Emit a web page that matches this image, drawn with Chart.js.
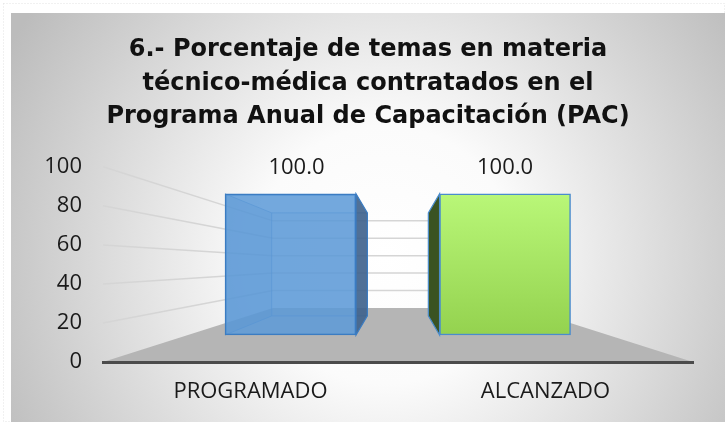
<!DOCTYPE html>
<html>
<head>
<meta charset="utf-8">
<script src="https://cdn.jsdelivr.net/npm/chart.js@4.4.0/dist/chart.umd.min.js"></script>
<style>
  html, body { margin: 0; padding: 0; background: #fff; }
  canvas { display: block; }
</style>
</head>
<body>
<canvas id="myChart" width="725" height="422"></canvas>
<script>
// chart data
const categories = ['PROGRAMADO', 'ALCANZADO'];
const values = [100.0, 100.0];
const yTicks = [0, 20, 40, 60, 80, 100];
const titleLines = [
  '6.- Porcentaje de temas en materia',
  'técnico-médica contratados en el',
  'Programa Anual de Capacitación (PAC)'
];

const FONT = "'Open Sans', 'DejaVu Sans', sans-serif";
const TITLE_FONT = "'DejaVu Sans', 'Open Sans', sans-serif";
const WALL_SX = 0.424, WALL_SY = 0.446, BAR_DEPTH = 0.73;

const frontColors = ['rgba(92,154,215,0.86)', null];
const borderColors = ['#3b7cc2', '#4a8ccc'];
const sideColors = ['rgba(62,98,140,0.9)', '#3a5322'];

var ctx = document.getElementById('myChart');

function vanish(chart) {
  const a = chart.chartArea;
  return { vx: (a.left + a.right) / 2, vy: (a.top + a.bottom) / 2 };
}

function barBox(bar) {
  const p = bar.getProps(['x', 'y', 'base', 'width'], true);
  return { x: p.x, top: p.y, base: p.base, l: p.x - p.width / 2, r: p.x + p.width / 2 };
}

function poly(c, pts) {
  c.beginPath();
  c.moveTo(pts[0][0], pts[0][1]);
  for (let i = 1; i < pts.length; i++) c.lineTo(pts[i][0], pts[i][1]);
  c.closePath();
}

const scene3d = {
  id: 'scene3d',
  beforeDraw(chart) {
    const c = chart.ctx, a = chart.chartArea, W = chart.width, H = chart.height;
    c.save();
    c.fillStyle = '#fff';
    c.fillRect(0, 0, W, H);
    c.strokeStyle = '#e2e2e2';
    c.setLineDash([1, 2]);
    c.strokeRect(3.5, 3.5, W - 4, H - 4);
    c.setLineDash([]);
    const g = c.createRadialGradient(385, 255, 0, 385, 255, 430);
    g.addColorStop(0, '#ffffff');
    g.addColorStop(0.3, '#fbfbfb');
    g.addColorStop(1, '#bcbcbc');
    c.fillStyle = g;
    c.fillRect(11, 13, W - 11, H - 13);

    // floor and walls in perspective
    const y = chart.scales.y;
    const { vx, vy } = vanish(chart);
    const bx = px => vx + WALL_SX * (px - vx);
    const by = py => vy + WALL_SY * (py - vy);
    const y0 = y.getPixelForValue(yTicks[0]);
    c.fillStyle = '#b5b5b5';
    poly(c, [[a.left, y0], [a.right, y0], [bx(a.right), by(y0)], [bx(a.left), by(y0)]]);
    c.fill();
    c.strokeStyle = '#d5d5d5';
    c.lineWidth = 1.5;
    yTicks.slice(1).forEach(v => {
      const p = y.getPixelForValue(v);
      c.beginPath();
      c.moveTo(a.left, p);
      c.lineTo(bx(a.left), by(p));
      c.lineTo(bx(a.right), by(p));
      c.stroke();
    });
    c.restore();
  },
  beforeDatasetsDraw(chart) {
    const c = chart.ctx;
    const { vx, vy } = vanish(chart);
    const B = (px, py) => [vx + BAR_DEPTH * (px - vx), vy + BAR_DEPTH * (py - vy)];
    c.save();
    chart.getDatasetMeta(0).data.forEach((bar, i) => {
      if (!frontColors[i]) return;
      const b = barBox(bar);
      const tl = B(b.l, b.top), bl = B(b.l, b.base), tr = B(b.r, b.top), br = B(b.r, b.base);
      c.fillStyle = 'rgba(40,100,170,0.22)';
      poly(c, [[b.l, b.top], tl, bl, [b.l, b.base]]);
      c.fill();
      c.fillStyle = 'rgba(40,100,170,0.08)';
      poly(c, [tl, tr, br, bl]);
      c.fill();
      c.strokeStyle = 'rgba(50,115,190,0.6)';
      c.lineWidth = 1;
      poly(c, [tl, tr, br, bl]);
      c.stroke();
      c.beginPath();
      c.moveTo(b.l, b.top); c.lineTo(tl[0], tl[1]);
      c.moveTo(b.l, b.base); c.lineTo(bl[0], bl[1]);
      c.stroke();
    });
    c.restore();
  },
  afterDatasetsDraw(chart) {
    const c = chart.ctx;
    const { vx, vy } = vanish(chart);
    const B = (px, py) => [vx + BAR_DEPTH * (px - vx), vy + BAR_DEPTH * (py - vy)];
    c.save();
    chart.getDatasetMeta(0).data.forEach((bar, i) => {
      const b = barBox(bar);
      const edge = b.x < vx ? b.r : b.l;
      c.fillStyle = sideColors[i];
      poly(c, [[edge, b.top], B(edge, b.top), B(edge, b.base), [edge, b.base]]);
      c.fill();
      c.strokeStyle = borderColors[i];
      c.lineWidth = 1.2;
      c.stroke();

      c.fillStyle = '#1a1a1a';
      c.font = '22px ' + FONT;
      c.textAlign = 'center';
      c.textBaseline = 'middle';
      c.fillText(values[i].toFixed(1), b.x + (b.x < vx ? 6 : 0), b.top - 26);
    });
    c.restore();
  }
};

function barFill(context) {
  const i = context.dataIndex;
  if (frontColors[i]) return frontColors[i];
  const chart = context.chart;
  if (!chart.chartArea) return '#a4e060';
  const yb = chart.scales.yb;
  const g = chart.ctx.createLinearGradient(0, yb.getPixelForValue(100), 0, yb.getPixelForValue(0));
  g.addColorStop(0, '#b9f778');
  g.addColorStop(1, '#94d24f');
  return g;
}

var options = {
  responsive: false,
  animation: false,
  layout: { padding: { top: 27, left: 11, right: 0, bottom: 0 } },
  plugins: {
    legend: { display: false },
    tooltip: { enabled: false },
    title: {
      display: true,
      text: titleLines,
      color: '#111',
      font: { family: TITLE_FONT, size: 24, weight: 'bold', lineHeight: 1.4 },
      padding: { top: 6, bottom: 33 }
    }
  },
  scales: {
    x: {
      type: 'category',
      offset: true,
      grid: { display: false, drawTicks: false },
      border: { display: true, color: '#4b4b4b', width: 3 },
      ticks: { color: '#1a1a1a', font: { family: FONT, size: 22 }, padding: 17 },
      afterFit: s => { s.height = 60; }
    },
    xb: {
      type: 'linear',
      display: false,
      offset: false,
      min: -0.874,
      max: 1.876
    },
    y: {
      type: 'linear',
      position: 'left',
      min: yTicks[0],
      max: yTicks[yTicks.length - 1],
      grid: { display: false, drawTicks: false },
      border: { display: false },
      ticks: { stepSize: yTicks[1] - yTicks[0], color: '#1a1a1a', font: { family: FONT, size: 22 }, padding: 21 },
      afterFit: s => { s.width = 92; }
    },
    // empty right gutter so the title centres on the whole panel
    gutter: {
      type: 'linear',
      position: 'right',
      grid: { display: false, drawTicks: false },
      border: { display: false },
      ticks: { display: false },
      afterFit: s => { s.width = 32; }
    },
    yb: {
      type: 'linear',
      display: false,
      min: -19.15,
      max: 119.15
    }
  }
};

var StockChart = new Chart(ctx, {
  type: 'bar',
  data: {
    labels: categories,
    datasets: [{
      data: categories.map((c, i) => ({ x: i, y: values[i] })),
      xAxisID: 'xb',
      yAxisID: 'yb',
      barThickness: 131,
      backgroundColor: barFill,
      borderColor: borderColors,
      borderWidth: 1.5,
      borderSkipped: false
    }]
  },
  options: options,
  plugins: [scene3d]
});
</script>
</body>
</html>
